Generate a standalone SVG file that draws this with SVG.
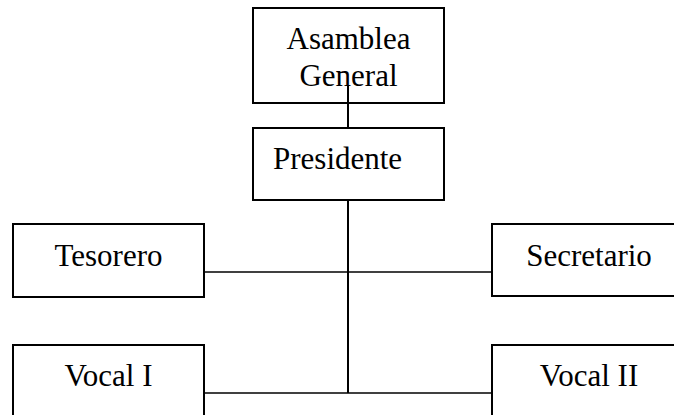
<svg xmlns="http://www.w3.org/2000/svg" width="674" height="415" viewBox="0 0 674 415">
<style>
.box{fill:#fff;stroke:#000;stroke-width:2}
.lbl{font-family:"Liberation Serif","Times New Roman",serif;font-size:31px;fill:#000}
.c{text-anchor:middle}
.conn line{stroke:#000;stroke-width:1.5}
.conn line.v{stroke-width:2}
</style>
<rect width="674" height="415" fill="#fff"/>
<g id="asamblea"><rect class="box" x="253" y="8" width="191" height="95"/>
<text class="lbl c" x="348.5" y="49">Asamblea</text><text class="lbl c" x="348.5" y="86">General</text></g>
<g id="presidente"><rect class="box" x="253" y="128" width="191" height="72"/>
<text class="lbl" x="273" y="169">Presidente</text></g>
<g id="tesorero"><rect class="box" x="13" y="224" width="191" height="73"/>
<text class="lbl c" x="108.5" y="266">Tesorero</text></g>
<g id="secretario"><rect class="box" x="492" y="224" width="200" height="72"/>
<text class="lbl c" x="589" y="266">Secretario</text></g>
<g id="vocal1"><rect class="box" x="13" y="345" width="191" height="90"/>
<text class="lbl c" x="108.5" y="386">Vocal I</text></g>
<g id="vocal2"><rect class="box" x="492" y="345" width="200" height="90"/>
<text class="lbl c" x="589" y="386">Vocal II</text></g>
<g id="connectors" class="conn">
<line class="v" x1="348" y1="85" x2="348" y2="128"/>
<line class="v" x1="348" y1="200" x2="348" y2="393"/>
<line x1="204" y1="272" x2="492" y2="272"/>
<line x1="204" y1="393" x2="492" y2="393"/>
</g>
</svg>
